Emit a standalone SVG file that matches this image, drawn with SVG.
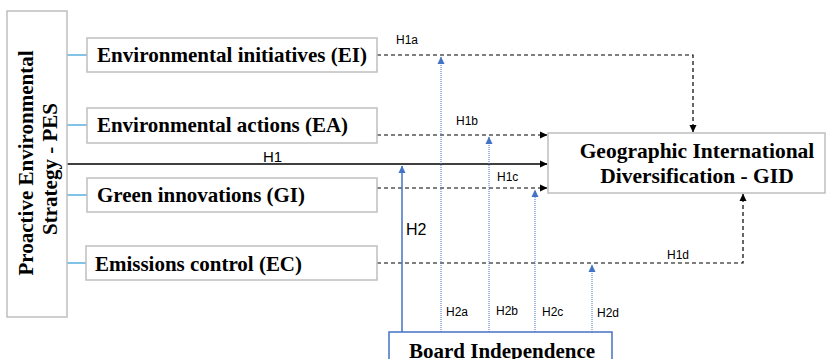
<svg xmlns="http://www.w3.org/2000/svg" width="827" height="359" viewBox="0 0 827 359">
<defs>
<style>
.box{fill:#fff;stroke:#bfbfbf;stroke-width:1.5}
.bbox{fill:#fff;stroke:#4472c4;stroke-width:1.5}
.t{font-family:"Liberation Serif","Times New Roman",serif;font-weight:bold;fill:#000}
.s{font-family:"Liberation Sans",Arial,sans-serif;fill:#000}
.teal{stroke:#2e9bd6;stroke-width:1.2;fill:none}
.dash{stroke:#000;stroke-width:1.2;stroke-dasharray:4 3;fill:none}
.dot{stroke:#4472c4;stroke-width:1;stroke-dasharray:1 1;fill:none}
.solidb{stroke:#4472c4;stroke-width:1.5;fill:none}
.h1{stroke:#404040;stroke-width:2;fill:none}
</style>
<marker id="ak" markerWidth="8" markerHeight="8" refX="7" refY="4" orient="auto" markerUnits="userSpaceOnUse"><path d="M0,0.5 L7.5,4 L0,7.5 Z" fill="#000"/></marker>
<marker id="ab" markerWidth="8" markerHeight="8" refX="7" refY="4" orient="auto" markerUnits="userSpaceOnUse"><path d="M0,0.5 L7.5,4 L0,7.5 Z" fill="#4472c4"/></marker>
</defs>
<g id="connectors">
<line class="teal" x1="67" y1="55" x2="87" y2="55"/>
<line class="teal" x1="67" y1="125" x2="87" y2="125"/>
<line class="teal" x1="67" y1="195" x2="87" y2="195"/>
<line class="teal" x1="67" y1="263" x2="86" y2="263"/>
<line class="h1" x1="67" y1="164" x2="547" y2="164" marker-end="url(#ak)"/>
<path class="dash" d="M377,55 H693 V132" marker-end="url(#ak)"/>
<path class="dash" d="M377,135 H547" marker-end="url(#ak)"/>
<path class="dash" d="M377,188 H547" marker-end="url(#ak)"/>
<path class="dash" d="M377,263 H743 V194" marker-end="url(#ak)"/>
<line class="solidb" x1="402" y1="332" x2="402" y2="166" marker-end="url(#ab)"/>
<line class="dot" x1="441" y1="332" x2="441" y2="57" marker-end="url(#ab)"/>
<line class="dot" x1="489" y1="332" x2="489" y2="137" marker-end="url(#ab)"/>
<line class="dot" x1="535" y1="332" x2="535" y2="190" marker-end="url(#ab)"/>
<line class="dot" x1="592" y1="332" x2="592" y2="265" marker-end="url(#ab)"/>
<text class="s" x="396" y="44" font-size="12">H1a</text>
<text class="s" x="456" y="125" font-size="12">H1b</text>
<text class="s" x="497" y="181" font-size="12">H1c</text>
<text class="s" x="667" y="259" font-size="12">H1d</text>
<text class="s" x="263" y="162" font-size="15">H1</text>
<text class="s" x="406" y="235" font-size="16">H2</text>
<text class="s" x="446" y="316" font-size="12">H2a</text>
<text class="s" x="496" y="315" font-size="12">H2b</text>
<text class="s" x="542" y="316" font-size="12">H2c</text>
<text class="s" x="597" y="317" font-size="12">H2d</text>
</g>
<g id="PES">
<rect class="box" x="7" y="11" width="60" height="306"/>
<text class="t" font-size="21" text-anchor="middle" transform="translate(33,163) rotate(-90)">Proactive Environmental</text>
<text class="t" font-size="21" text-anchor="middle" transform="translate(57,169) rotate(-90)">Strategy - PES</text>
</g>
<g id="EI">
<rect class="box" x="87" y="38" width="290" height="34"/>
<text class="t" x="97" y="62" font-size="21" textLength="270" lengthAdjust="spacingAndGlyphs">Environmental initiatives (EI)</text>
</g>
<g id="EA">
<rect class="box" x="87" y="108" width="290" height="35"/>
<text class="t" x="97" y="132" font-size="21" textLength="251" lengthAdjust="spacingAndGlyphs">Environmental actions (EA)</text>
</g>
<g id="GI">
<rect class="box" x="87" y="178" width="290" height="34"/>
<text class="t" x="97" y="202" font-size="21" textLength="208" lengthAdjust="spacingAndGlyphs">Green innovations (GI)</text>
</g>
<g id="EC">
<rect class="box" x="86" y="246" width="291" height="34"/>
<text class="t" x="95" y="271" font-size="21" textLength="207" lengthAdjust="spacingAndGlyphs">Emissions control (EC)</text>
</g>
<g id="GID">
<rect class="box" x="548" y="133" width="277" height="60"/>
<text class="t" x="697" y="158" font-size="21.5" text-anchor="middle">Geographic International</text>
<text class="t" x="697" y="183" font-size="21.5" text-anchor="middle">Diversification - GID</text>
</g>
<g id="BI">
<rect class="bbox" x="389" y="332" width="223" height="40"/>
<text class="t" x="409" y="358" font-size="21">Board Independence</text>
</g>
</svg>
